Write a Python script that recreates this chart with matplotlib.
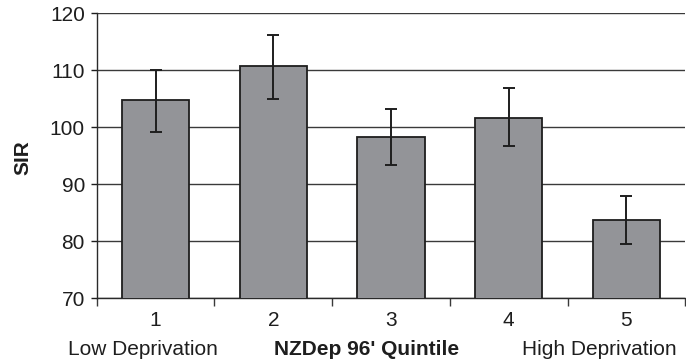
import matplotlib
matplotlib.use("Agg")
import matplotlib.pyplot as plt
import numpy as np

plt.rcParams['font.family'] = ['Liberation Sans', 'DejaVu Sans']

categories = ['1', '2', '3', '4', '5']
sir = [104.8, 110.7, 98.3, 101.6, 83.7]
upper = [110.0, 116.2, 103.2, 106.9, 87.9]
lower = [99.2, 105.0, 93.4, 96.7, 79.6]
yticks = [70, 80, 90, 100, 110, 120]

fig = plt.figure(figsize=(6.86, 3.64), dpi=100)
ax = fig.add_axes([0.141, 0.1805, 0.858, 0.783])

x = np.arange(len(categories))
yerr = [np.array(sir) - np.array(lower), np.array(upper) - np.array(sir)]
ax.bar(x, sir, width=0.57, color='#939498', edgecolor='#1e1e1e', linewidth=1.3, zorder=3)
ax.errorbar(x, sir, yerr=yerr, fmt='none', ecolor='#1e1e1e', elinewidth=1.4,
            capsize=4, capthick=1.4, zorder=4)

ax.set_xlim(-0.5, len(categories) - 0.5)
ax.set_ylim(70, 120)
ax.set_yticks(yticks)
ax.yaxis.grid(True, color='#3a3a3a', linewidth=1.0, zorder=0)
ax.set_axisbelow(True)

ax.set_xticks(x)
ax.set_xticklabels(categories)
ax.set_xticks(np.arange(len(categories) + 1) - 0.5, minor=True)
ax.tick_params(axis='x', which='major', length=0, labelsize=15, pad=9, colors='#1e1e1e')
ax.tick_params(axis='x', which='minor', length=6, width=1.0, direction='out', color='#3a3a3a')
ax.tick_params(axis='y', length=4.5, width=1.0, labelsize=15, pad=4, colors='#1e1e1e')

for s in ['top', 'right']:
    ax.spines[s].set_visible(False)
for s in ['left', 'bottom']:
    ax.spines[s].set_color('#2a2a2a')
    ax.spines[s].set_linewidth(1.0)

fig.text(0.033, 0.567, 'SIR', rotation=90, ha='center', va='center', fontsize=15,
         fontweight='bold', color='#1e1e1e')

fig.text(0.099, 0.041, 'Low Deprivation', ha='left', va='center', fontsize=15, color='#1e1e1e')
fig.text(0.535, 0.041, "NZDep 96' Quintile", ha='center', va='center', fontsize=15,
         fontweight='bold', color='#1e1e1e')
fig.text(0.987, 0.041, 'High Deprivation', ha='right', va='center', fontsize=15, color='#1e1e1e')

fig.savefig('out.png', dpi=100)
